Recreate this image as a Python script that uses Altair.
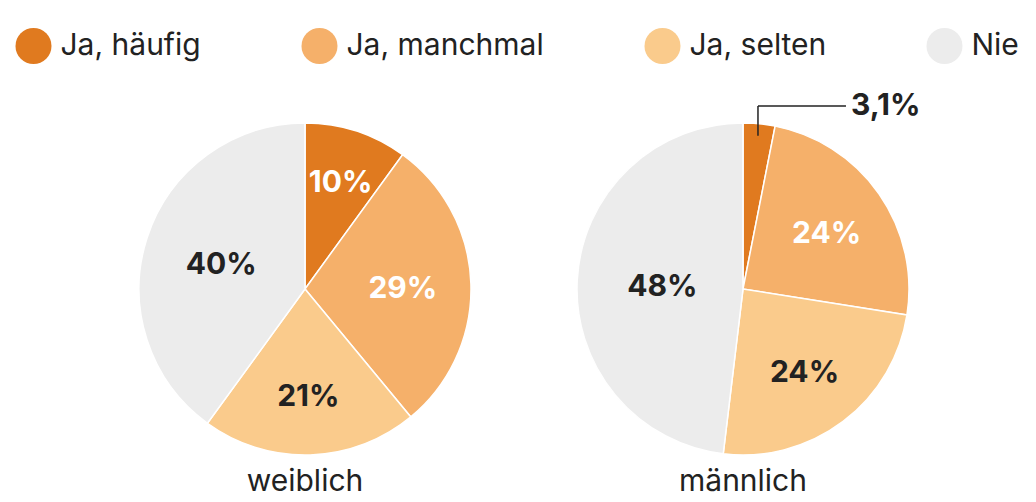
import altair as alt
import pandas as pd

groups = ["weiblich", "männlich"]
categories = ["Ja, häufig", "Ja, manchmal", "Ja, selten", "Nie"]
values_weiblich = [10, 29, 21, 40]
values_maennlich = [3.1, 24.4, 24.4, 48.1]
labels_weiblich = ["10%", "29%", "21%", "40%"]
labels_maennlich = ["3,1%", "24%", "24%", "48%"]
colors = ["#e07a1f", "#f5b06a", "#facb8c", "#ececec"]

rows = []
for g, vals, labs in [(groups[0], values_weiblich, labels_weiblich),
                      (groups[1], values_maennlich, labels_maennlich)]:
    for i, (c, v, l) in enumerate(zip(categories, vals, labs)):
        rows.append(dict(group=g, category=c, value=v, label=l, order=i))
df = pd.DataFrame(rows)

W, H, R = 400, 340, 166
CX, CY = W / 2, H / 2
FONT = "Inter"
DARK = "#222222"

arcs = alt.Chart().mark_arc(outerRadius=R, stroke="white", strokeWidth=1.5).encode(
    theta=alt.Theta("value:Q", stack=True),
    order=alt.Order("order:Q"),
    color=alt.Color(
        "category:N",
        scale=alt.Scale(domain=categories, range=colors),
        legend=alt.Legend(
            title=None, orient="none", legendX=-89.5, legendY=-91,
            direction="horizontal", symbolType="circle", symbolSize=1296,
            symbolStrokeWidth=0, labelFont=FONT, labelFontSize=30,
            labelColor=DARK, labelOffset=9, columnPadding=100, padding=0,
            labelLimit=400,
        ),
    ),
)

polar = alt.Chart().transform_joinaggregate(
    total="sum(value)", groupby=["group"]
).transform_window(
    cum="sum(value)", groupby=["group"], sort=[alt.SortField("order", order="ascending")]
).transform_calculate(
    pct="100*datum.value/datum.total",
    mid="2*PI*(datum.cum - datum.value/2)/datum.total",
    lr="124 - 0.9*datum.pct",
)

inner = polar.transform_filter("datum.pct >= 5").mark_text(
    font=FONT, fontSize=30, fontWeight="bold", dy=3
).encode(
    theta=alt.Theta("mid:Q", scale=None),
    radius=alt.Radius("lr:Q", scale=None),
    text="label:N",
    color=alt.condition(
        alt.FieldOneOfPredicate(field="category", oneOf=categories[:2]),
        alt.value("white"), alt.value(DARK)),
)

small = polar.transform_filter("datum.pct < 5").transform_calculate(
    px=f"{CX} + {R - 12}*sin(datum.mid)",
    py=f"{CY} - {R - 12}*cos(datum.mid)",
    ey=f"{CY - R - 17}",
    ex="datum.px + 88",
    tx="datum.px + 93",
)

vrule = small.mark_rule(color=DARK, strokeWidth=1.5).encode(
    x=alt.X("px:Q", scale=None), y=alt.Y("py:Q", scale=None), y2="ey:Q")
hrule = small.mark_rule(color=DARK, strokeWidth=1.5).encode(
    x=alt.X("px:Q", scale=None), x2="ex:Q", y=alt.Y("ey:Q", scale=None))
otext = small.mark_text(align="left", baseline="middle", font=FONT, fontSize=30,
                        fontWeight="bold", color=DARK).encode(
    x=alt.X("tx:Q", scale=None), y=alt.Y("ey:Q", scale=None), text="label:N")

chart = alt.layer(arcs, inner, vrule, hrule, otext, data=df).properties(
    width=W, height=H
).facet(
    column=alt.Column(
        "group:N", sort=groups, title=None,
        header=alt.Header(orient="bottom", labelOrient="bottom", labelFont=FONT,
                          labelFontSize=30, labelColor=DARK, labelPadding=8),
    ),
    spacing=38,
).properties(
    padding={"left": 15, "top": 28, "right": 5, "bottom": 0},
    background="white",
).configure_view(stroke=None)

chart.save("out.html", embed_options={"renderer": "svg", "actions": False})
